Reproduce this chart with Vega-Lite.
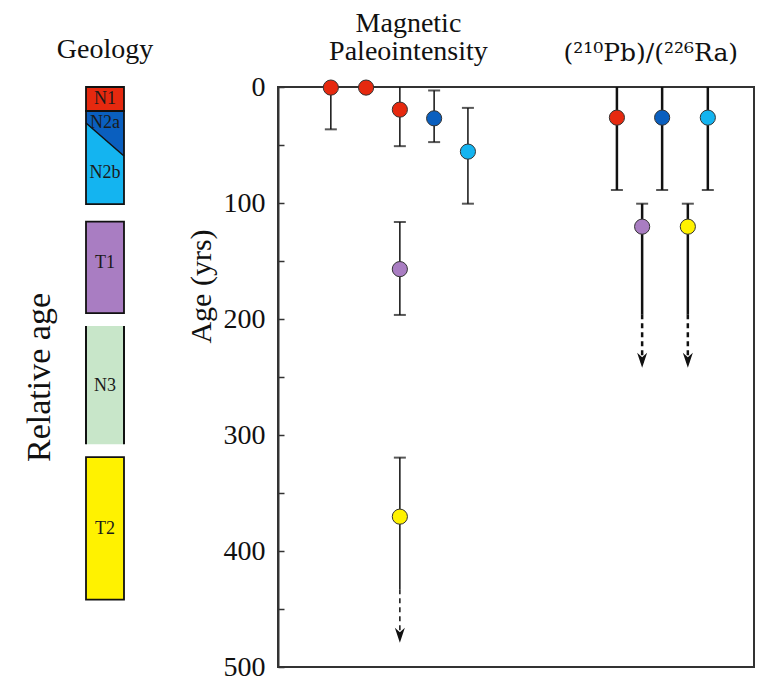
{
  "$schema": "https://vega.github.io/schema/vega-lite/v6.json",
  "background": "white",
  "padding": {"left": 22, "top": 8, "right": 5, "bottom": 5},
  "config": {
    "font": "Liberation Serif, DejaVu Serif, serif",
    "concat": {"spacing": 31},
    "axis": {"labelFont": "Liberation Serif, DejaVu Serif, serif", "titleFont": "Liberation Serif, DejaVu Serif, serif", "labelColor": "#111", "titleColor": "#111", "titleFontWeight": "normal", "grid": false},
    "title": {"font": "Liberation Serif, DejaVu Serif, serif"},
    "text": {"font": "Liberation Serif, DejaVu Serif, serif"}
  },
  "datasets": {
    "geology": [
      {"unit": "N1", "top": 0, "bottom": 20.7},
      {"unit": "N2b", "top": 20.7, "bottom": 101},
      {"unit": "T1", "top": 116, "bottom": 195},
      {"unit": "T2", "top": 319, "bottom": 442}
    ],
    "n3": [{"unit": "N3", "top": 206, "bottom": 308}],
    "n3sides": [{"gx": 0, "top": 206, "bottom": 308}, {"gx": 1, "top": 206, "bottom": 308}],
    "n2a": [{"unit": "N2a", "gx": 0, "top": 20.7, "bottom": 31}, {"unit": "N2a", "gx": 1, "top": 20.7, "bottom": 59.5}],
    "glabels": [
      {"label": "N1", "age": 10.3},
      {"label": "N2a", "age": 31},
      {"label": "N2b", "age": 74},
      {"label": "T1", "age": 152},
      {"label": "N3", "age": 258},
      {"label": "T2", "age": 381}
    ],
    "bars": [
      {"method": "Magnetic", "x": 11.1, "lo": 0, "hi": 36.5},
      {"method": "Magnetic", "x": 25.6, "lo": 0, "hi": 51},
      {"method": "Magnetic", "x": 32.8, "lo": 3, "hi": 47.5},
      {"method": "Magnetic", "x": 39.9, "lo": 18, "hi": 100.6},
      {"method": "Magnetic", "x": 25.6, "lo": 116.4, "hi": 196.5},
      {"method": "Magnetic", "x": 25.6, "lo": 319.5, "hi": 433},
      {"method": "Pb", "x": 71.2, "lo": 0, "hi": 88.8},
      {"method": "Pb", "x": 80.7, "lo": 0, "hi": 88.8},
      {"method": "Pb", "x": 90.3, "lo": 0, "hi": 88.8},
      {"method": "Pb", "x": 76.5, "lo": 100.6, "hi": 196},
      {"method": "Pb", "x": 86.1, "lo": 100.6, "hi": 196}
    ],
    "dashes": [
      {"method": "Magnetic", "x": 25.6, "lo": 433, "hi": 474},
      {"method": "Pb", "x": 76.5, "lo": 196, "hi": 238},
      {"method": "Pb", "x": 86.1, "lo": 196, "hi": 238}
    ],
    "caps": [
      {"x": 11.1, "age": 36.5},
      {"x": 25.6, "age": 51},
      {"x": 32.8, "age": 3},
      {"x": 32.8, "age": 47.5},
      {"x": 39.9, "age": 18},
      {"x": 39.9, "age": 100.6},
      {"x": 25.6, "age": 116.4},
      {"x": 25.6, "age": 196.5},
      {"x": 25.6, "age": 319.5},
      {"x": 71.2, "age": 88.8},
      {"x": 80.7, "age": 88.8},
      {"x": 90.3, "age": 88.8},
      {"x": 76.5, "age": 100.6},
      {"x": 86.1, "age": 100.6}
    ],
    "arrows": [
      {"x": 25.6, "age": 479},
      {"x": 76.5, "age": 242},
      {"x": 86.1, "age": 242}
    ],
    "points": [
      {"method": "Magnetic", "unit": "N1", "x": 11.1, "age": 0.5},
      {"method": "Magnetic", "unit": "N1", "x": 18.5, "age": 0.5},
      {"method": "Magnetic", "unit": "N1", "x": 25.6, "age": 19.5},
      {"method": "Magnetic", "unit": "N2a", "x": 32.8, "age": 27},
      {"method": "Magnetic", "unit": "N2b", "x": 39.9, "age": 55.7},
      {"method": "Magnetic", "unit": "T1", "x": 25.6, "age": 157},
      {"method": "Magnetic", "unit": "T2", "x": 25.6, "age": 370.4},
      {"method": "Pb", "unit": "N1", "x": 71.2, "age": 26.4},
      {"method": "Pb", "unit": "N2a", "x": 80.7, "age": 26.4},
      {"method": "Pb", "unit": "N2b", "x": 90.3, "age": 26.4},
      {"method": "Pb", "unit": "T1", "x": 76.5, "age": 120.4},
      {"method": "Pb", "unit": "T2", "x": 86.1, "age": 120.4}
    ]
  },
  "hconcat": [
    {
      "width": 38,
      "height": 580,
      "view": {"stroke": null},
      "title": {"text": "Geology", "fontSize": 28, "fontWeight": "normal", "color": "#111", "offset": 22},
      "layer": [
        {
          "data": {"name": "geology"},
          "mark": {"type": "rect", "strokeWidth": 0},
          "encoding": {
            "x": {"datum": 0, "type": "quantitative", "scale": {"domain": [0, 1]}, "axis": null},
            "x2": {"datum": 1},
            "y": {"field": "top", "type": "quantitative", "scale": {"domain": [0, 500], "reverse": true, "nice": false}, "axis": {"title": "Relative age", "labels": false, "ticks": false, "domain": false, "titleFontSize": 34, "titleX": -37, "titleY": 290, "titleBaseline": "alphabetic", "titleAngle": -90}},
            "y2": {"field": "bottom"},
            "fill": {"field": "unit", "type": "nominal", "scale": {"domain": ["N1", "N2a", "N2b", "T1", "N3", "T2"], "range": ["#e6290f", "#0a5fbf", "#14b4f0", "#a97dc2", "#c8e6c9", "#fff200"]}, "legend": null}
          }
        },
        {
          "data": {"name": "n3"},
          "mark": {"type": "rect", "strokeWidth": 0},
          "encoding": {
            "x": {"datum": 0, "type": "quantitative"},
            "x2": {"datum": 1},
            "y": {"field": "top", "type": "quantitative"},
            "y2": {"field": "bottom"},
            "fill": {"field": "unit", "type": "nominal", "legend": null}
          }
        },
        {
          "data": {"name": "n2a"},
          "mark": {"type": "area", "orient": "vertical"},
          "encoding": {
            "x": {"field": "gx", "type": "quantitative"},
            "y": {"field": "bottom", "type": "quantitative"},
            "y2": {"field": "top"},
            "fill": {"field": "unit", "type": "nominal", "legend": null}
          }
        },
        {
          "data": {"name": "n2a"},
          "mark": {"type": "line", "color": "#111", "strokeWidth": 1.5},
          "encoding": {
            "x": {"field": "gx", "type": "quantitative"},
            "y": {"field": "bottom", "type": "quantitative"}
          }
        },
        {
          "data": {"name": "geology"},
          "mark": {"type": "rect", "fillOpacity": 0, "stroke": "#111", "strokeWidth": 1.8},
          "encoding": {
            "x": {"datum": 0, "type": "quantitative"},
            "x2": {"datum": 1},
            "y": {"field": "top", "type": "quantitative"},
            "y2": {"field": "bottom"}
          }
        },
        {
          "data": {"name": "n3sides"},
          "mark": {"type": "rule", "color": "#111", "strokeWidth": 2},
          "encoding": {
            "x": {"field": "gx", "type": "quantitative"},
            "y": {"field": "top", "type": "quantitative"},
            "y2": {"field": "bottom"}
          }
        },
        {
          "data": {"name": "glabels"},
          "mark": {"type": "text", "fontSize": 18, "color": "#1a1a1a", "baseline": "middle", "font": "Liberation Serif"},
          "encoding": {
            "x": {"datum": 0.5, "type": "quantitative"},
            "y": {"field": "age", "type": "quantitative"},
            "text": {"field": "label"}
          }
        }
      ]
    },
    {
      "width": 476,
      "height": 580,
      "view": {"stroke": "#333", "strokeWidth": 2},
      "layer": [
        {
          "data": {"name": "bars"},
          "mark": {"type": "rule", "color": "#111"},
          "encoding": {
            "x": {"field": "x", "type": "quantitative", "scale": {"domain": [0, 100], "nice": false}, "axis": {"orient": "top", "title": null, "values": [27.3, 78.2], "labelExpr": "datum.value < 50 ? ['Magnetic', 'Paleointensity'] : ['', '(²¹⁰Pb)/(²²⁶Ra)']", "labelFont": {"condition": {"test": "datum.value > 50", "value": "DejaVu Serif"}, "value": "Liberation Serif"}, "labelFontSize": {"condition": {"test": "datum.value > 50", "value": 25}, "value": 28}, "ticks": false, "domain": false, "labelPadding": 50, "labelLineHeight": 28, "labelAngle": 0}},
            "y": {"field": "lo", "type": "quantitative", "scale": {"domain": [0, 500], "reverse": true, "nice": false}, "axis": {"title": "Age (yrs)", "values": [0, 50, 100, 150, 200, 250, 300, 350, 400, 450, 500], "labelExpr": "datum.value % 100 === 0 ? datum.label : ''", "tickSize": -6, "tickWidth": 1.5, "tickColor": "#333", "domainColor": "#333", "domainWidth": 2, "labelFontSize": 28, "labelPadding": 19, "titleFontSize": 30, "titleX": -68, "titleY": 199, "titleBaseline": "alphabetic", "titleAngle": -90}},
            "y2": {"field": "hi"},
            "strokeWidth": {"field": "method", "type": "nominal", "scale": {"domain": ["Magnetic", "Pb"], "range": [1.5, 2.5]}, "legend": null}
          }
        },
        {
          "data": {"name": "dashes"},
          "mark": {"type": "rule", "color": "#111", "strokeDash": [5, 4]},
          "encoding": {
            "x": {"field": "x", "type": "quantitative"},
            "y": {"field": "lo", "type": "quantitative"},
            "y2": {"field": "hi"},
            "strokeWidth": {"field": "method", "type": "nominal", "legend": null}
          }
        },
        {
          "data": {"name": "caps"},
          "mark": {"type": "tick", "orient": "horizontal", "color": "#111", "size": 12, "thickness": 2},
          "encoding": {
            "x": {"field": "x", "type": "quantitative"},
            "y": {"field": "age", "type": "quantitative"}
          }
        },
        {
          "data": {"name": "arrows"},
          "mark": {"type": "point", "shape": "M0,0 L-1,-3 L0,-2.1 L1,-3 Z", "size": 100, "filled": true, "color": "#111", "opacity": 1},
          "encoding": {
            "x": {"field": "x", "type": "quantitative"},
            "y": {"field": "age", "type": "quantitative"}
          }
        },
        {
          "data": {"name": "points"},
          "mark": {"type": "circle", "size": 230, "stroke": "#333", "strokeWidth": 1, "opacity": 1},
          "encoding": {
            "x": {"field": "x", "type": "quantitative"},
            "y": {"field": "age", "type": "quantitative"},
            "fill": {"field": "unit", "type": "nominal", "scale": {"domain": ["N1", "N2a", "N2b", "T1", "N3", "T2"], "range": ["#e6290f", "#0a5fbf", "#14b4f0", "#a97dc2", "#c8e6c9", "#fff200"]}, "legend": null}
          }
        }
      ]
    }
  ]
}
